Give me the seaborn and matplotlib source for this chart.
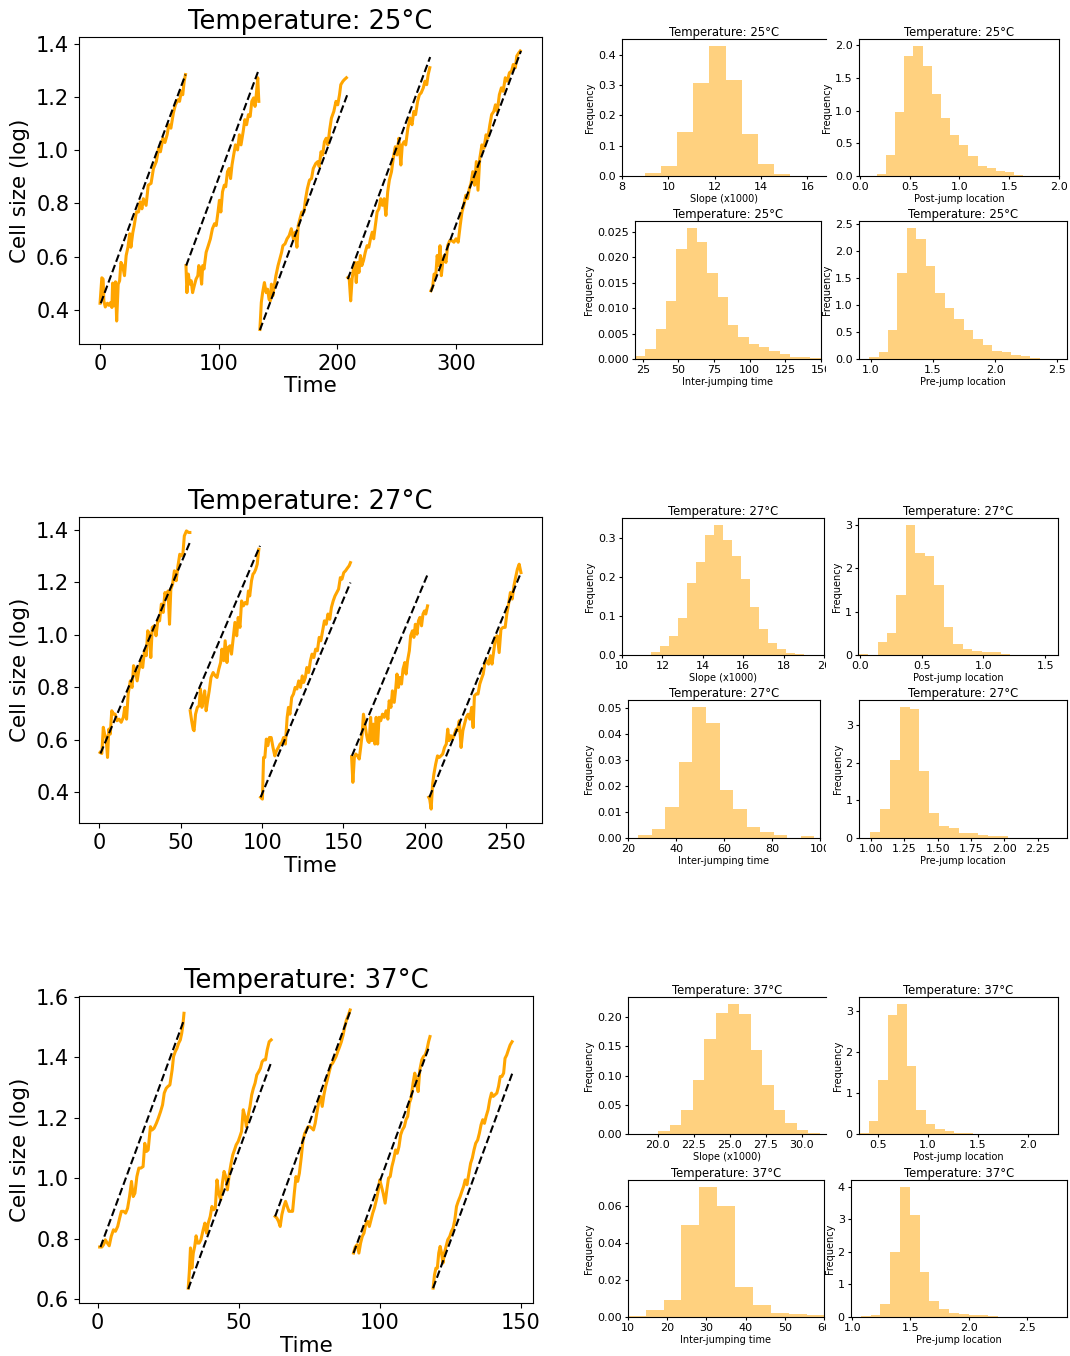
import numpy as np
import pandas as pd
import matplotlib
matplotlib.use("Agg")
import matplotlib.pyplot as plt
import seaborn as sns
from matplotlib.transforms import Bbox
from matplotlib.ticker import MultipleLocator

plt.rcParams['font.family'] = ['DejaVu Sans']

# ---------------- trajectory data (Time, log cell size) ----------------
t25_1 = [0, 1.5, 2.6, 3.2, 4.4, 6.2, 7.6, 9, 10, 10.6, 11.8, 13, 14, 15.3, 16.5, 17.6, 19, 20.6, 22, 23.5, 25, 26, 27.6, 28.8, 30.6, 32.4, 33.8, 35.3, 36.5, 38.8, 40.6, 43, 45, 47.4, 49.4, 50.9, 53, 54.7, 56.5, 58, 59.7, 61.8, 63.5, 65.6, 67, 68.5, 69.7, 70.9, 72]
v25_1 = [0.424, 0.52, 0.515, 0.433, 0.41, 0.424, 0.416, 0.427, 0.408, 0.5, 0.414, 0.505, 0.357, 0.496, 0.509, 0.578, 0.566, 0.528, 0.604, 0.635, 0.686, 0.635, 0.69, 0.717, 0.768, 0.768, 0.806, 0.78, 0.818, 0.793, 0.869, 0.876, 0.932, 0.958, 1.008, 0.995, 1.046, 1.03, 1.059, 1.097, 1.084, 1.141, 1.172, 1.191, 1.185, 1.223, 1.21, 1.261, 1.286]
t25_2 = [72.4, 73.2, 74.4, 75.6, 76.8, 78, 79.4, 80.9, 82.4, 83.2, 84.4, 85.6, 86.5, 87.6, 89.4, 91.2, 93, 94.7, 96.5, 97.9, 99.4, 100.6, 101.8, 103.2, 104.7, 105.9, 107.4, 108.8, 110, 111.2, 112.6, 114.1, 115.9, 117.4, 118.8, 120.6, 122, 123.5, 125, 126.5, 127.9, 129.4, 130.6, 131.8, 132.9, 133.8]
v25_2 = [0.566, 0.464, 0.534, 0.496, 0.509, 0.464, 0.49, 0.515, 0.528, 0.566, 0.55, 0.496, 0.566, 0.553, 0.616, 0.641, 0.667, 0.705, 0.724, 0.717, 0.768, 0.812, 0.768, 0.844, 0.869, 0.863, 0.92, 0.932, 0.894, 0.945, 0.983, 1.021, 1.002, 1.059, 1.021, 1.071, 1.116, 1.097, 1.135, 1.128, 1.185, 1.198, 1.166, 1.217, 1.274, 1.185]
t25_3 = [134.7, 135.9, 137, 138.5, 140, 141.2, 142.4, 143.5, 144.4, 145.6, 146.8, 148.2, 150, 151.5, 153, 154.1, 155.9, 157.6, 159.4, 161.2, 162.9, 164.4, 165.9, 167, 168.5, 170, 171.8, 173.2, 174.7, 176.5, 178.2, 179.7, 181.8, 183.5, 184.7, 186.2, 187.6, 189.1, 190.6, 192, 193.5, 195, 197, 198.8, 200.3, 201.8, 202.9, 204.7, 205.9, 207.6]
v25_3 = [0.325, 0.427, 0.464, 0.502, 0.464, 0.477, 0.439, 0.433, 0.496, 0.452, 0.49, 0.528, 0.566, 0.591, 0.616, 0.641, 0.648, 0.667, 0.679, 0.705, 0.667, 0.692, 0.635, 0.717, 0.743, 0.768, 0.768, 0.818, 0.856, 0.888, 0.894, 0.932, 0.951, 0.958, 0.939, 0.995, 0.983, 1.033, 1.046, 1.021, 1.078, 1.122, 1.147, 1.185, 1.172, 1.21, 1.248, 1.261, 1.267, 1.274]
t25_4 = [208.8, 210, 211.2, 212.4, 213.5, 214.7, 215.9, 217, 218.2, 219.4, 220.6, 222, 223.5, 225, 226.5, 227.9, 229.4, 230.6, 232, 233.5, 235, 236.5, 237.9, 239.4, 240.9, 242.4, 243.8, 245.6, 247.1, 248.8, 250.3, 251.8, 253.5, 254.7, 256.2, 257.6, 259.4, 261.2, 262.9, 264.4, 265.9, 267.6, 269.1, 270.6, 272.4, 273.8, 275.3, 276.5, 277.9]
v25_4 = [0.521, 0.515, 0.433, 0.515, 0.553, 0.578, 0.502, 0.578, 0.54, 0.604, 0.566, 0.585, 0.616, 0.641, 0.635, 0.667, 0.692, 0.667, 0.717, 0.768, 0.78, 0.818, 0.793, 0.818, 0.755, 0.844, 0.888, 0.92, 0.97, 1.014, 0.983, 1.046, 0.945, 1.021, 1.033, 1.021, 1.084, 1.122, 1.097, 1.147, 1.135, 1.185, 1.21, 1.217, 1.236, 1.261, 1.248, 1.286, 1.312]
t25_5 = [278.8, 280.3, 281.5, 282.9, 284.1, 285.3, 286.5, 287.6, 288.8, 290, 291.5, 292.9, 294.7, 296.5, 298.2, 300, 301.8, 303.5, 305, 306.5, 308.2, 309.7, 311.2, 312.6, 314.1, 315.6, 317.1, 318.5, 320, 321.8, 323.5, 325.3, 326.8, 328.5, 330, 331.8, 333.2, 334.7, 336.5, 338.2, 339.7, 341.5, 343.2, 345, 346.8, 348.2, 350, 351.2, 352.9, 354.1]
v25_5 = [0.471, 0.487, 0.534, 0.528, 0.604, 0.566, 0.641, 0.528, 0.578, 0.604, 0.578, 0.641, 0.66, 0.66, 0.654, 0.667, 0.654, 0.717, 0.768, 0.793, 0.831, 0.818, 0.856, 0.876, 0.92, 0.869, 0.958, 0.85, 0.97, 1.021, 1.008, 1.059, 1.046, 1.097, 1.135, 1.147, 1.172, 1.147, 1.21, 1.236, 1.223, 1.274, 1.261, 1.293, 1.299, 1.324, 1.312, 1.356, 1.368, 1.375]

t27_1 = [0.4, 1.5, 2.4, 3.2, 4.1, 5, 5.8, 6.7, 7.6, 8.7, 9.7, 10.8, 12.1, 13.4, 14.7, 15.6, 16.7, 17.7, 19, 20.1, 21, 22.1, 23.2, 24.2, 25.5, 26.6, 27.7, 28.8, 29.7, 30.7, 31.6, 32.5, 33.8, 34.8, 35.9, 37, 38.1, 39.2, 40.3, 41.1, 42.2, 43.1, 43.9, 45, 46.1, 47.2, 48.3, 49.4, 50.4, 51.3, 52.2, 53.5, 54.8, 55.6]
v27_1 = [0.551, 0.547, 0.647, 0.621, 0.608, 0.532, 0.64, 0.621, 0.71, 0.697, 0.697, 0.672, 0.678, 0.666, 0.685, 0.723, 0.678, 0.774, 0.824, 0.799, 0.882, 0.863, 0.824, 0.863, 0.901, 0.875, 0.939, 0.92, 1.015, 1.002, 0.913, 1.028, 1.034, 0.996, 1.053, 1.053, 1.117, 1.085, 1.161, 1.142, 1.167, 1.04, 1.174, 1.193, 1.244, 1.206, 1.263, 1.307, 1.301, 1.307, 1.377, 1.396, 1.39, 1.39]
t27_2 = [55.8, 56.7, 57.6, 58.2, 59.1, 60.2, 61.3, 62.1, 63, 63.9, 64.7, 65.6, 66.5, 67.5, 68.6, 69.9, 71.2, 72.3, 73.4, 74.5, 75.3, 76.4, 77.3, 78.4, 79.2, 80.3, 81.2, 82.3, 83.3, 84.4, 85.3, 86.4, 87.4, 88.5, 89.6, 90.7, 91.6, 92.4, 93.5, 94.4, 95.2, 96.1, 97, 98]
v27_2 = [0.71, 0.672, 0.64, 0.634, 0.697, 0.723, 0.729, 0.793, 0.723, 0.755, 0.786, 0.71, 0.748, 0.786, 0.837, 0.856, 0.843, 0.837, 0.869, 0.894, 0.945, 0.901, 0.977, 0.894, 0.951, 0.958, 0.926, 0.99, 1.047, 0.996, 1.066, 1.028, 1.129, 1.11, 1.123, 1.117, 1.167, 1.148, 1.206, 1.231, 1.237, 1.25, 1.269, 1.326]
t27_3 = [99.1, 100.2, 100.9, 101.7, 102.6, 103.5, 104.5, 105.6, 106.7, 107.8, 108.9, 110, 111, 112.1, 113.2, 114.3, 115.4, 116.2, 117.1, 118.2, 119.3, 120.3, 121.4, 122.5, 123.6, 124.7, 125.5, 126.6, 127.5, 128.6, 129.7, 130.7, 131.8, 132.9, 134, 135.1, 136.1, 137.2, 138.3, 139.4, 140.5, 141.6, 142.6, 143.7, 144.8, 145.9, 147, 148.1, 149.1, 150.2, 151.3, 152.4, 153.5, 154.3]
v27_3 = [0.38, 0.373, 0.532, 0.532, 0.602, 0.577, 0.608, 0.608, 0.57, 0.538, 0.558, 0.57, 0.583, 0.589, 0.608, 0.583, 0.685, 0.723, 0.697, 0.761, 0.774, 0.799, 0.793, 0.824, 0.799, 0.843, 0.818, 0.837, 0.875, 0.856, 0.901, 0.926, 0.913, 0.945, 0.939, 0.99, 0.977, 1.015, 1.053, 1.04, 1.079, 1.059, 1.104, 1.129, 1.148, 1.161, 1.174, 1.218, 1.212, 1.237, 1.244, 1.254, 1.263, 1.275]
t27_4 = [155, 155.8, 156.7, 157.6, 158.7, 159.7, 160.6, 161.5, 162.3, 163.2, 164.1, 164.9, 165.8, 166.7, 167.5, 168.4, 169.3, 170.1, 171, 171.9, 172.9, 174, 175.1, 176.2, 177.3, 178.1, 179.2, 180.1, 181.2, 182, 182.9, 183.8, 184.6, 185.7, 186.6, 187.7, 188.5, 189.4, 190.5, 191.3, 192.4, 193.3, 194.2, 195.2, 196.1, 197, 198, 198.9, 199.8, 200.6, 201.7]
v27_4 = [0.535, 0.437, 0.532, 0.545, 0.538, 0.526, 0.57, 0.621, 0.697, 0.659, 0.621, 0.596, 0.589, 0.685, 0.596, 0.659, 0.583, 0.685, 0.583, 0.685, 0.672, 0.697, 0.685, 0.71, 0.678, 0.748, 0.723, 0.786, 0.742, 0.786, 0.85, 0.799, 0.837, 0.812, 0.869, 0.894, 0.85, 0.901, 0.939, 0.996, 1.015, 0.99, 1.04, 1.002, 1.053, 1.066, 1.034, 1.079, 1.091, 1.079, 1.11]
t27_5 = [202.4, 203, 203.9, 204.8, 205.6, 206.7, 207.8, 208.9, 209.9, 211, 212.1, 213.2, 214.1, 214.9, 216, 217.1, 218.2, 219.3, 220.1, 221.2, 222.3, 223.4, 224.4, 225.5, 226.6, 227.7, 228.8, 229.7, 230.5, 231.6, 232.7, 233.8, 234.8, 235.9, 237, 238.1, 239.2, 240.3, 241.3, 242.4, 243.5, 244.6, 245.7, 246.8, 248.1, 249.4, 250.4, 251.5, 252.6, 253.7, 254.8, 255.8, 256.9, 258, 259.1]
v27_5 = [0.38, 0.373, 0.335, 0.43, 0.469, 0.507, 0.538, 0.532, 0.538, 0.545, 0.57, 0.583, 0.64, 0.596, 0.615, 0.602, 0.621, 0.64, 0.634, 0.672, 0.57, 0.634, 0.659, 0.685, 0.697, 0.678, 0.723, 0.646, 0.767, 0.774, 0.774, 0.812, 0.831, 0.85, 0.894, 0.901, 0.888, 0.92, 0.888, 0.939, 0.99, 0.996, 0.932, 1.021, 1.028, 1.028, 1.079, 1.117, 1.161, 1.136, 1.187, 1.218, 1.25, 1.269, 1.237]

t37_1 = [0.7, 1.5, 2.1, 2.7, 3.3, 4.1, 4.8, 5.6, 6.3, 7.1, 7.8, 8.4, 9.2, 9.9, 10.6, 11.3, 12, 12.6, 13.2, 13.9, 14.6, 15.3, 16.1, 16.7, 17.3, 17.9, 18.7, 19.3, 20, 20.8, 21.5, 22.3, 23, 23.6, 24.3, 24.9, 25.6, 26.4, 26.9, 27.5, 28.1, 28.7, 29.3, 29.8, 30.2, 30.6]
v37_1 = [0.772, 0.772, 0.78, 0.796, 0.787, 0.776, 0.807, 0.829, 0.824, 0.84, 0.868, 0.89, 0.89, 0.884, 0.9, 0.939, 0.989, 0.939, 0.95, 1.005, 1.033, 1.033, 1.038, 1.115, 1.088, 1.093, 1.17, 1.159, 1.165, 1.181, 1.198, 1.22, 1.242, 1.281, 1.297, 1.303, 1.308, 1.358, 1.402, 1.418, 1.429, 1.446, 1.457, 1.479, 1.506, 1.545]
t37_2 = [32.1, 32.5, 32.9, 33.4, 33.9, 34.4, 34.9, 35.4, 36, 36.6, 37.4, 38, 38.6, 39.2, 39.9, 40.5, 41.1, 41.7, 42.3, 42.9, 43.6, 44.2, 44.8, 45.4, 46, 46.7, 47.3, 47.9, 48.5, 49.1, 49.8, 50.4, 51, 51.6, 52.2, 52.7, 53.3, 54, 54.6, 55.2, 55.8, 56.4, 57.1, 57.7, 58.3, 58.9, 59.5, 60.1, 60.8, 61.5]
v37_2 = [0.636, 0.691, 0.769, 0.702, 0.752, 0.774, 0.809, 0.785, 0.785, 0.796, 0.829, 0.851, 0.818, 0.851, 0.873, 0.906, 0.895, 0.901, 0.994, 0.95, 0.928, 0.983, 1.022, 1.005, 0.961, 1.016, 1.049, 1.077, 1.093, 1.11, 1.121, 1.137, 1.154, 1.226, 1.204, 1.17, 1.204, 1.237, 1.275, 1.297, 1.314, 1.341, 1.352, 1.363, 1.385, 1.391, 1.391, 1.424, 1.451, 1.457]
t37_3 = [62.9, 63.5, 64.1, 64.7, 65.3, 66, 66.6, 67.2, 67.8, 68.4, 69.1, 69.7, 70.3, 70.9, 71.5, 72.2, 72.8, 73.4, 74, 74.6, 75.2, 75.9, 76.5, 77.1, 77.7, 78.3, 79, 79.6, 80.2, 80.8, 81.4, 82.1, 82.7, 83.3, 83.9, 84.5, 85.1, 85.8, 86.4, 87, 87.6, 88.2, 88.9, 89.5]
v37_3 = [0.873, 0.868, 0.857, 0.84, 0.879, 0.906, 0.923, 0.906, 0.89, 0.89, 0.89, 0.95, 1.005, 0.989, 1.016, 1.071, 1.126, 1.148, 1.159, 1.17, 1.17, 1.165, 1.159, 1.181, 1.215, 1.248, 1.27, 1.237, 1.275, 1.303, 1.325, 1.352, 1.374, 1.38, 1.391, 1.402, 1.418, 1.435, 1.451, 1.473, 1.501, 1.523, 1.539, 1.556]
t37_4 = [90.7, 91.3, 92, 92.6, 93.2, 93.8, 94.4, 95, 95.7, 96.3, 96.9, 97.5, 98.1, 98.8, 99.4, 100, 100.6, 101.2, 101.9, 102.5, 103.1, 103.7, 104.3, 104.9, 105.6, 106.2, 106.8, 107.4, 108, 108.7, 109.3, 109.9, 110.5, 111.1, 111.8, 112.4, 113, 113.6, 114.2, 114.9, 115.5, 116.1, 116.7, 117.3, 117.8]
v37_4 = [0.752, 0.772, 0.78, 0.752, 0.785, 0.807, 0.818, 0.846, 0.857, 0.84, 0.862, 0.884, 0.901, 0.928, 0.956, 0.994, 0.972, 0.95, 0.917, 0.961, 1.0, 1.005, 1.038, 1.06, 1.093, 1.082, 1.104, 1.143, 1.159, 1.17, 1.193, 1.204, 1.248, 1.264, 1.314, 1.347, 1.325, 1.286, 1.358, 1.391, 1.402, 1.407, 1.424, 1.451, 1.468]
t37_5 = [118.9, 119.4, 119.9, 120.4, 120.9, 121.4, 121.9, 122.4, 122.9, 123.5, 124.1, 124.8, 125.4, 126, 126.6, 127.2, 127.8, 128.5, 129.1, 129.7, 130.3, 130.9, 131.6, 132.2, 132.8, 133.4, 134, 134.7, 135.3, 135.9, 136.5, 137.1, 137.7, 138.4, 139, 139.6, 140.2, 140.8, 141.5, 142.1, 142.7, 143.3, 143.9, 144.4, 145, 145.6, 146.2, 146.9]
v37_5 = [0.636, 0.68, 0.702, 0.702, 0.752, 0.774, 0.752, 0.719, 0.752, 0.774, 0.796, 0.807, 0.824, 0.835, 0.862, 0.906, 0.923, 0.939, 0.956, 0.972, 0.994, 0.978, 1.016, 1.049, 1.066, 1.093, 1.115, 1.126, 1.148, 1.176, 1.193, 1.181, 1.204, 1.226, 1.259, 1.281, 1.27, 1.275, 1.281, 1.303, 1.336, 1.336, 1.347, 1.396, 1.407, 1.424, 1.44, 1.451]

# linear fits (start/end time, start/end value) per cycle
fit25_t = [(0.6, 72), (72.6, 133.8), (134.7, 208.2), (208.8, 278.2), (278.8, 354.7)]
fit25_v = [(0.424, 1.286), (0.566, 1.305), (0.323, 1.208), (0.515, 1.352), (0.467, 1.375)]
fit27_t = [(0.65, 55.6), (55.8, 98.7), (99.1, 154.3), (155.2, 202.2), (202.8, 259.1)]
fit27_v = [(0.547, 1.352), (0.716, 1.339), (0.38, 1.199), (0.538, 1.237), (0.38, 1.237)]
fit37_t = [(1, 30.6), (32.1, 61.6), (62.9, 89.7), (90.7, 117.6), (118.9, 147)]
fit37_v = [(0.772, 1.523), (0.633, 1.385), (0.873, 1.556), (0.752, 1.437), (0.636, 1.347)]

# ---------------- histogram data (bin start, bin width, densities) ----------------
slope25_start, slope25_w = 8.98, 0.697
slope25_h = [0.011, 0.034, 0.146, 0.308, 0.43, 0.318, 0.14, 0.041, 0.008]
post25_start, post25_w = 0.168, 0.0922
post25_h = [0.036, 0.327, 0.974, 1.842, 1.995, 1.689, 1.26, 0.893, 0.633, 0.48, 0.301, 0.158, 0.128, 0.082, 0.056, 0.02]
inter25_start, inter25_w = 19.7, 7.23
inter25_h = [0.0005, 0.002, 0.0059, 0.0114, 0.0216, 0.0258, 0.023, 0.0169, 0.0122, 0.0067, 0.0043, 0.003, 0.0024, 0.0016, 0.001, 0.0004, 0.0004, 0.0001]
pre25_start, pre25_w = 0.987, 0.0762
pre25_h = [0.031, 0.13, 0.54, 1.593, 2.436, 2.232, 1.73, 1.221, 0.949, 0.744, 0.54, 0.366, 0.26, 0.149, 0.13, 0.074, 0.05, 0.01, 0.005, 0.003]

slope27_start, slope27_w = 11.42, 0.446
slope27_h = [0.0086, 0.024, 0.05, 0.096, 0.186, 0.24, 0.309, 0.335, 0.296, 0.253, 0.194, 0.122, 0.068, 0.032, 0.016, 0.006, 0.0034]
post27_start, post27_w = -0.011, 0.0767
post27_h = [0.03, 0.0, 0.31, 0.515, 1.39, 3.01, 2.36, 2.29, 1.62, 0.654, 0.26, 0.146, 0.1, 0.077, 0.077, 0.023]
inter27_start, inter27_w = 24.3, 5.64
inter27_h = [0.0013, 0.0033, 0.012, 0.0292, 0.0504, 0.0442, 0.0184, 0.011, 0.0041, 0.0022, 0.001, 0.0, 0.0006]
pre27_start, pre27_w = 0.995, 0.0735
pre27_h = [0.151, 0.765, 2.073, 3.488, 3.434, 1.779, 0.658, 0.311, 0.258, 0.125, 0.125, 0.071, 0.044, 0.044, 0.012, 0.006, 0.004, 0.002, 0.002]

slope37_start, slope37_w = 20.05, 0.8
slope37_h = [0.0051, 0.016, 0.0417, 0.093, 0.163, 0.208, 0.2234, 0.206, 0.1446, 0.0846, 0.0417, 0.0194, 0.0074, 0.0023]
post37_start, post37_w = 0.315, 0.0945
post37_h = [0.024, 0.325, 1.325, 2.91, 3.18, 1.667, 0.593, 0.252, 0.13, 0.081, 0.033, 0.033, 0.01, 0.005, 0.004, 0.003, 0.002, 0.002, 0.001, 0.001]
inter37_start, inter37_w = 9.93, 4.57
inter37_h = [0.0003, 0.0036, 0.009, 0.0497, 0.0708, 0.06, 0.0161, 0.0063, 0.002, 0.0014, 0.0009]
pre37_start, pre37_w = 1.074, 0.0843
pre37_h = [0.02, 0.06, 0.388, 2.0, 4.0, 3.112, 1.367, 0.48, 0.235, 0.112, 0.082, 0.051, 0.051, 0.02, 0.01, 0.01, 0.005, 0.005, 0.003, 0.003]

temps = [25, 27, 37]
hist_labels = ["Slope (x1000)", "Post-jump location", "Inter-jumping time", "Pre-jump location"]
time_tick_step = {25: 100, 27: 50, 37: 50}
hist_tick_step = {25: [2, 0.5, 25, 0.5], 27: [2, 0.5, 20, 0.25], 37: [2.5, 0.5, 10, 0.5]}

# ---------------- figure ----------------
W, H = 1070, 1356
fig = plt.figure(figsize=(W / 100, H / 100), dpi=100)


def add_ax(l, t, r, b):
    return fig.add_axes([l / W, 1 - b / H, (r - l) / W, (b - t) / H])


segments = {
    25: [(t25_1, v25_1), (t25_2, v25_2), (t25_3, v25_3), (t25_4, v25_4), (t25_5, v25_5)],
    27: [(t27_1, v27_1), (t27_2, v27_2), (t27_3, v27_3), (t27_4, v27_4), (t27_5, v27_5)],
    37: [(t37_1, v37_1), (t37_2, v37_2), (t37_3, v37_3), (t37_4, v37_4), (t37_5, v37_5)],
}
fits = {25: (fit25_t, fit25_v), 27: (fit27_t, fit27_v), 37: (fit37_t, fit37_v)}
hists = {
    25: [(slope25_start, slope25_w, slope25_h), (post25_start, post25_w, post25_h),
         (inter25_start, inter25_w, inter25_h), (pre25_start, pre25_w, pre25_h)],
    27: [(slope27_start, slope27_w, slope27_h), (post27_start, post27_w, post27_h),
         (inter27_start, inter27_w, inter27_h), (pre27_start, pre27_w, pre27_h)],
    37: [(slope37_start, slope37_w, slope37_h), (post37_start, post37_w, post37_h),
         (inter37_start, inter37_w, inter37_h), (pre37_start, pre37_w, pre37_h)],
}
hist_xlims = {
    25: [(8, 16.8), (-0.01, 2.0), (19.6, 150), (0.906, 2.579)],
    27: [(10, 20), (-0.016, 1.604), (20, 100), (0.91, 2.47)],
    37: [(17.93, 31.7), (0.31, 2.3), (10, 60), (0.99, 2.846)],
}

main_boxes = {25: (79, 37, 542, 344), 27: (79, 517, 542, 823), 37: (79, 996, 533, 1303)}
hist_boxes = {
    25: [(622, 39, 826, 176), (859, 39, 1059, 176), (635, 221, 821, 359), (859, 221, 1067, 359)],
    27: [(622, 518, 824, 655), (858, 518, 1058, 655), (628, 700, 820, 838), (859, 700, 1067, 838)],
    37: [(628, 997, 826, 1134), (859, 997, 1058, 1134), (628, 1180, 824, 1317), (851, 1180, 1067, 1317)],
}
clipped_right = {25: [0], 27: [], 37: [0]}

left_hist_axes = []
for T in temps:
    ax = add_ax(*main_boxes[T])
    for t, v in segments[T]:
        n = min(len(t), len(v))
        sns.lineplot(x=t[:n], y=v[:n], ax=ax, color="orange", linewidth=2.2,
                     estimator=None, sort=False)
    ft, fv = fits[T]
    for (ta, tb), (va, vb) in zip(ft, fv):
        sns.lineplot(x=[ta, tb], y=[va, vb], ax=ax, color="black", linewidth=1.5,
                     linestyle="--", estimator=None, sort=False)
    ax.xaxis.set_major_locator(MultipleLocator(time_tick_step[T]))
    ax.set_title(f"Temperature: {T}°C", fontsize=18.5)
    ax.set_xlabel("Time", fontsize=15.5, labelpad=2)
    ax.set_ylabel("Cell size (log)", fontsize=15.5)
    ax.tick_params(labelsize=15)

    for k, (start, width, heights) in enumerate(hists[T]):
        hax = add_ax(*hist_boxes[T][k])
        heights = np.asarray(heights, dtype=float)
        nb = len(heights)
        lo, hi = start, start + width * nb
        centers = start + width * (np.arange(nb) + 0.5)
        hdf = pd.DataFrame({"value": centers, "density": heights})
        sns.histplot(data=hdf, x="value", weights="density", bins=nb, binrange=(lo, hi),
                     ax=hax, color="orange", alpha=0.5, linewidth=0)
        hax.set_xlim(*hist_xlims[T][k])
        hax.xaxis.set_major_locator(MultipleLocator(hist_tick_step[T][k]))
        hax.set_title(f"Temperature: {T}°C", fontsize=8.4, pad=2)
        hax.set_xlabel(hist_labels[k], fontsize=7, labelpad=1)
        hax.set_ylabel("Frequency", fontsize=7, labelpad=2)
        hax.tick_params(labelsize=8, length=2.5, pad=2)
        if k in clipped_right[T]:
            hax.spines["right"].set_visible(False)
        if k in (0, 2):
            left_hist_axes.append(hax)

fig.canvas.draw()
clipbox = Bbox.from_extents(0, 0, 826, H)
for hax in left_hist_axes:
    for lab in hax.get_xticklabels():
        lab.set_clip_on(True)
        lab.set_clip_box(clipbox)

fig.savefig("out.png", dpi=100)
